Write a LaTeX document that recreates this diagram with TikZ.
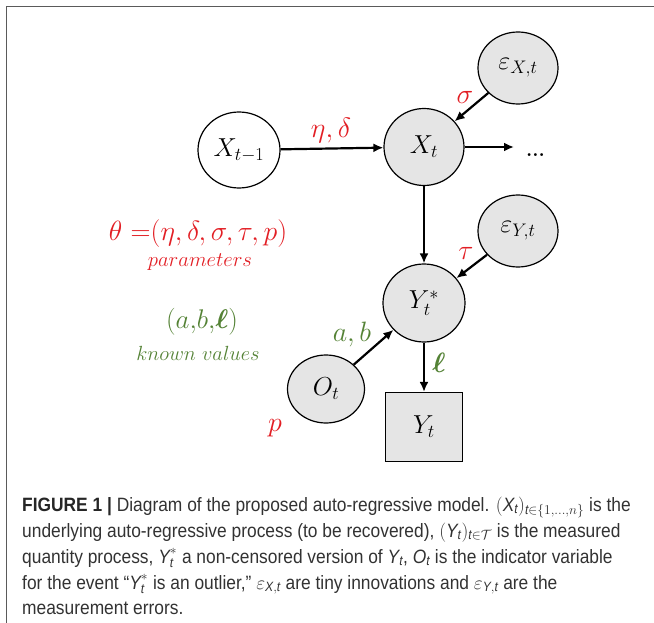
\RequirePackage{fix-cm}
\documentclass[tikz,border=0pt]{standalone}
\usepackage{amsmath,amssymb}
\usepackage{fontspec}
\usetikzlibrary{shapes.geometric,arrows.meta}
\newfontfamily\capfont[FakeStretch=0.9]{Liberation Sans}
\definecolor{myred}{RGB}{226,30,36}
\definecolor{mygreen}{RGB}{84,130,53}
\definecolor{nodegray}{RGB}{229,229,229}
\definecolor{framegray}{RGB}{90,90,90}
\definecolor{captext}{RGB}{50,50,50}
\begin{document}
\begin{tikzpicture}[x=1pt,y=-1pt,
  rv/.style={ellipse, draw=black, line width=1.2pt, fill=nodegray, inner sep=0pt,
             font=\fontsize{26}{30}\selectfont},
  obs/.style={rectangle, draw=black, line width=1.2pt, fill=nodegray, inner sep=0pt,
             font=\fontsize{26}{30}\selectfont},
  edge/.style={line width=2.2pt, -{Latex[length=10pt,width=9pt]}},
  redlab/.style={text=myred, inner sep=0pt, font=\fontsize{28}{30}\selectfont},
  greenlab/.style={text=mygreen, inner sep=0pt, font=\fontsize{28}{30}\selectfont},
  capline/.style={anchor=base west, inner sep=0pt, text=captext,
             font=\capfont\fontsize{19.3}{22}\selectfont}]
\useasboundingbox (0,0) rectangle (654,623);
% frame (top and left edges only)
\draw[framegray, line width=1.3pt] (6.5,623) -- (6.5,6.5) -- (654,6.5);

% nodes
\node[rv, fill=white, minimum width=82pt, minimum height=76pt] (xtm1) at (239,150) {$X_{t-1}$};
\node[rv, minimum width=80pt, minimum height=77pt] (xt) at (424,147) {$X_t$};
\node[rv, minimum width=80pt, minimum height=72pt] (ex) at (518,68) {$\varepsilon_{X,t}$};
\node[rv, minimum width=82pt, minimum height=78pt] (ys) at (424,303) {$Y_t^*$};
\node[rv, minimum width=80pt, minimum height=72pt] (ey) at (518,231) {$\varepsilon_{Y,t}$};
\node[rv, minimum width=77pt, minimum height=68pt] (ot) at (326,389) {$O_t$};
\node[obs, minimum width=77pt, minimum height=69pt] (yt) at (424,427) {$Y_t$};
\node[anchor=base west, inner sep=0pt, font=\bfseries\fontsize{20}{24}\selectfont] (dots) at (526,157) {...};
\coordinate (dotsin) at (514,147);

% edges
\draw[edge] (xtm1) -- (xt);
\draw[edge] (xt) -- (dotsin);
\draw[edge] (ex) -- (xt);
\draw[edge] (xt) -- (ys);
\draw[edge] (ey) -- (ys);
\draw[edge] (ot) -- (ys);
\draw[edge] (ys) -- (yt);

% edge labels
\node[redlab] (lab-etadelta) at (331,131) {$\eta,\delta$};
\node[redlab] (lab-sigma) at (465,97) {$\sigma$};
\node[redlab] (lab-tau) at (466,253) {$\tau$};
\node[greenlab] (lab-ab) at (352,334) {$a,b$};
\node[greenlab] (lab-ell) at (439,363) {$\boldsymbol{\ell}$};
\node[redlab] (lab-p) at (275,428) {$p$};

% legend
\node[text=myred, inner sep=0pt, font=\fontsize{27.8}{32}\selectfont] (theta) at (198,234)
  {$\theta\ {=}(\eta,\delta,\sigma,\tau,p)$};
\node[text=myred, inner sep=0pt, font=\fontsize{20.7}{24}\selectfont] (params) at (200,262)
  {$parameters$};
\node[text=mygreen, inner sep=0pt, font=\fontsize{27}{30}\selectfont] (known) at (202,322)
  {$(a{,}b{,}\boldsymbol{\ell})$};
\node[text=mygreen, inner sep=0pt, font=\fontsize{20.5}{24}\selectfont] (knownlab) at (198,353)
  {$known\ values$};

% caption
\node[capline] (cap1) at (22,511) {{\bfseries\color{black!85}FIGURE 1 |} Diagram of the proposed auto-regressive model. $(\textit{X}_{\textit{t}})_{\textit{t}\in\{1,\ldots,n\}}$ is the};
\node[capline] (cap2) at (22,537) {underlying auto-regressive process (to be recovered), $(\textit{Y}_{\textit{t}})_{\textit{t}\in\mathcal{T}}$ is the measured};
\node[capline] (cap3) at (22,563) {quantity process, $\textit{Y}^{*}_{\textit{t}}$ a non-censored version of $\textit{Y}_{\textit{t}}$, $\textit{O}_{\textit{t}}$ is the indicator variable};
\node[capline] (cap4) at (22,589) {for the event “$\textit{Y}^{*}_{\textit{t}}$ is an outlier,” $\varepsilon_{\textit{X},\textit{t}}$ are tiny innovations and $\varepsilon_{\textit{Y},\textit{t}}$ are the};
\node[capline] (cap5) at (22,614) {measurement errors.};
\end{tikzpicture}
\end{document}
